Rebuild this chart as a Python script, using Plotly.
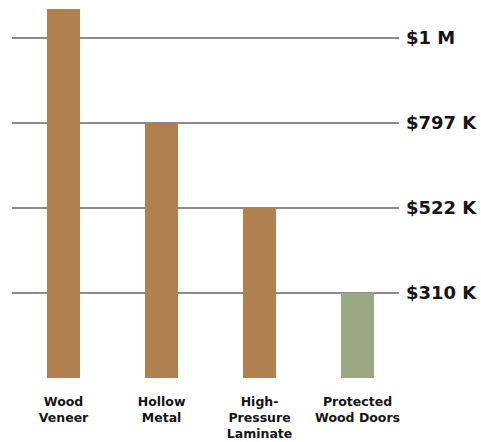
import numpy as np
import plotly.graph_objects as go

# Door types and their cost figures (USD)
categories = ["Wood<br>Veneer", "Hollow<br>Metal", "High-<br>Pressure<br>Laminate", "Protected<br>Wood Doors"]
costs = [1070000, 797000, 522000, 310000]
bar_colors = ["#B0814F", "#B0814F", "#B0814F", "#9DA683"]

# Reference levels shown as evenly spaced guide lines
tick_values = [310000, 522000, 797000, 1000000]
tick_labels = ["$310 K", "$522 K", "$797 K", "$1 M"]

# Stepped scale: each reference level occupies one equal band
anchors = [0] + tick_values
levels = list(range(len(anchors)))


def to_level(v):
    if v <= anchors[-1]:
        return float(np.interp(v, anchors, levels))
    step = anchors[-1] - anchors[-2]
    return levels[-1] + (v - anchors[-1]) / step


bar_heights = [to_level(v) for v in costs]
grid_levels = [to_level(v) for v in tick_values]

fig = go.Figure(
    go.Bar(
        x=list(range(len(categories))),
        y=bar_heights,
        marker=dict(color=bar_colors, line=dict(width=0)),
        width=0.337,
        customdata=costs,
        hovertemplate="%{customdata:$,.0f}<extra></extra>",
    )
)

label_font = dict(family="'DejaVu Sans', sans-serif", size=18, color="#151515", weight="bold")
cat_font = dict(family="'DejaVu Sans', sans-serif", size=12.5, color="#151515", weight="bold")

fig.update_layout(
    width=481,
    height=442,
    margin=dict(l=12, r=82, t=0, b=64),
    paper_bgcolor="white",
    plot_bgcolor="white",
    showlegend=False,
    bargap=0,
    xaxis=dict(
        range=[-0.526, 3.423],
        tickvals=list(range(len(categories))),
        ticktext=categories,
        tickfont=cat_font,
        showgrid=False,
        zeroline=False,
        showline=False,
        ticks="",
        ticklabelstandoff=14,
        fixedrange=True,
    ),
    yaxis=dict(
        range=[0, 4.447],
        side="right",
        tickvals=[0] + grid_levels,
        ticktext=[""] + tick_labels,
        tickfont=label_font,
        showgrid=True,
        gridcolor="#8C8C8C",
        gridwidth=1.5,
        zeroline=False,
        showline=False,
        ticks="",
        ticklabelstandoff=6,
        fixedrange=True,
    ),
)

fig.write_html("out.html")
